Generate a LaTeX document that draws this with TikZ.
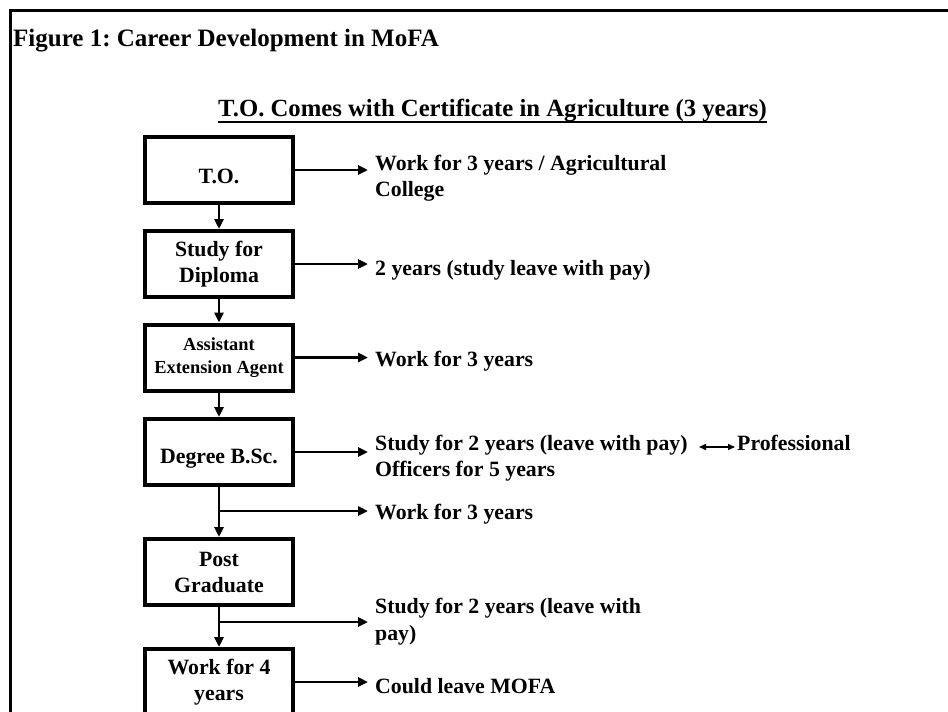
\documentclass[tikz,border=0pt]{standalone}
\usepackage{fontspec}
\setmainfont{Liberation Serif}
\usetikzlibrary{arrows.meta,positioning}

\tikzset{
	stage/.style={draw, line width=4pt, minimum width=148pt, minimum height=66pt,
		align=center, inner sep=2pt, font=\fontsize{21.8}{26}\selectfont\bfseries},
	lower/.style={text height=27pt},
	note/.style={anchor=base west, align=left, inner sep=0pt,
		font=\fontsize{21.8}{26.7}\selectfont\bfseries},
	flow/.style={-{Triangle[length=10pt,width=9pt]}, line width=2.5pt},
	pair/.style={{Triangle[length=7pt,width=6pt]}-{Triangle[length=7pt,width=6pt]}, line width=1.5pt},
}

\begin{document}
\frenchspacing
\begin{tikzpicture}[x=1pt, y=-1pt]
		\useasboundingbox (0,0) rectangle (948,712);
		% frame
		\draw[line width=3pt] (970,10) -- (10,10) -- (10,740);
		
		% titles
		\node[anchor=base west, inner sep=0pt, font=\fontsize{25}{30}\selectfont\bfseries] (title) at (13,46) {Figure 1: Career Development in MoFA};
		\node[anchor=base, inner sep=0pt, font=\fontsize{24.7}{30}\selectfont\bfseries] (sub) at (492.5,116) {T.O. Comes with Certificate in Agriculture (3 years)};
		\draw[line width=2.5pt] ([yshift=-6pt]sub.base west) -- ([yshift=-6pt]sub.base east);
		
		% stages
		\node[stage, lower] (to)  at (219,170)   {T.O.};
		\node[stage] (dip) at (219,264)   {Study for\\Diploma};
		\node[stage, font=\fontsize{18.4}{23}\selectfont\bfseries] (aea) at (219,357.5) {Assistant\\Extension Agent};
		\node[stage, lower] (bsc) at (219,452)   {Degree B.Sc.};
		\node[stage] (pg)  at (219,572)   {Post\\Graduate};
		\node[stage] (wk)  at (219,682)   {Work for 4\\years};
		
		% notes (base = last line)
		\node[note] (n1) at (375,196.7) {Work for 3 years / Agricultural\\College};
		\node[note] (n2) at (375,275) {2 years (study leave with pay)};
		\node[note] (n3) at (375,366) {Work for 3 years};
		\node[note] (n4) at (375,476.7) {Study for 2 years (leave with pay)\\Officers for 5 years};
		\node[note] (prof) at (737,450) {Professional};
		\node[note] (n5) at (375,519) {Work for 3 years};
		\node[note] (n6) at (375,640) {Study for 2 years (leave with\\pay)};
		\node[note] (n7) at (375,693) {Could leave MOFA};
		
		% main line
		\draw[flow] (to) -- (dip);
		\draw[flow] (dip) -- (aea);
		\draw[flow] (aea) -- (bsc);
		\draw[flow] (bsc) -- (pg);
		\draw[flow] (pg) -- (wk);
		
		% side arrows
		\foreach \s/\n in {to/n1, dip/n2, aea/n3, bsc/n4, wk/n7}{
			\draw[flow, shorten >=7pt] (\s.east) -- (\s.east -| \n.west);
		}
		\coordinate (j1) at (219,511);
		\coordinate (j2) at (219,622);
		\draw[flow, shorten >=7pt] (j1) -- (j1 -| n5.west);
		\draw[flow, shorten >=7pt] (j2) -- (j2 -| n6.west);
		
		% professional
		\coordinate (pl) at (699,447);
		\draw[pair, shorten >=2pt] (pl) -- (pl -| prof.west);
	\end{tikzpicture}
\end{document}
